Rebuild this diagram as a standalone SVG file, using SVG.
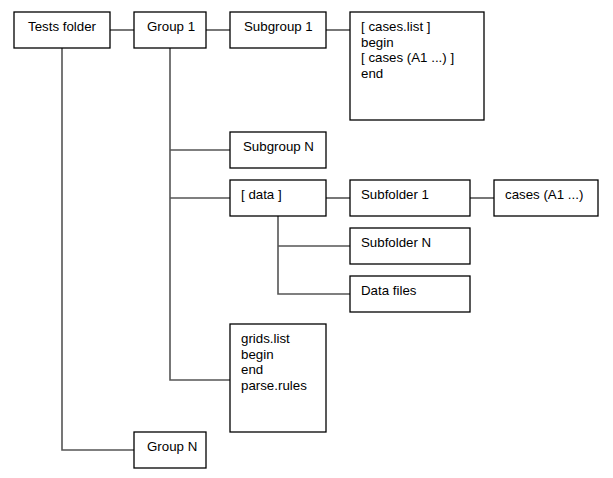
<svg xmlns="http://www.w3.org/2000/svg" width="613" height="478" viewBox="0 0 613 478">
<style>
.box{fill:#fff;stroke:#000;stroke-width:1.3}
.t{font-family:"Liberation Sans",Arial,sans-serif;font-size:13.3px;fill:#000}
.c{fill:none;stroke:#555;stroke-width:1.6}
</style>
<rect width="613" height="478" fill="#fff"/>
<g id="connectors">
<path class="c" d="M110 30H134"/>
<path class="c" d="M206 30H230"/>
<path class="c" d="M326 30H350"/>
<path class="c" d="M62 48V450H134"/>
<path class="c" d="M170 48V380H230"/>
<path class="c" d="M170 150H230"/>
<path class="c" d="M170 198H230"/>
<path class="c" d="M326 198H350"/>
<path class="c" d="M470 198H494"/>
<path class="c" d="M278 216V294H350"/>
<path class="c" d="M278 246H350"/>
</g>
<g id="tests-folder"><rect class="box" x="14" y="12" width="96" height="36"/><text class="t" x="28" y="31">Tests folder</text></g>
<g id="group-1"><rect class="box" x="134" y="12" width="72" height="36"/><text class="t" x="147" y="31">Group 1</text></g>
<g id="subgroup-1"><rect class="box" x="230" y="12" width="96" height="36"/><text class="t" x="244" y="31">Subgroup 1</text></g>
<g id="cases-list"><rect class="box" x="350" y="12" width="134" height="108"/>
<text class="t" x="361" y="31">[ cases.list ]</text>
<text class="t" x="361" y="46.5">begin</text>
<text class="t" x="361" y="62">[ cases (A1 ...) ]</text>
<text class="t" x="361" y="77.5">end</text></g>
<g id="subgroup-n"><rect class="box" x="230" y="132" width="96" height="36"/><text class="t" x="243" y="151">Subgroup N</text></g>
<g id="data"><rect class="box" x="230" y="180" width="96" height="36"/><text class="t" x="241" y="199">[ data ]</text></g>
<g id="subfolder-1"><rect class="box" x="350" y="180" width="120" height="36"/><text class="t" x="361" y="199">Subfolder 1</text></g>
<g id="cases"><rect class="box" x="494" y="180" width="104" height="36"/><text class="t" x="505" y="199">cases (A1 ...)</text></g>
<g id="subfolder-n"><rect class="box" x="350" y="228" width="120" height="36"/><text class="t" x="361" y="247">Subfolder N</text></g>
<g id="data-files"><rect class="box" x="350" y="276" width="120" height="36"/><text class="t" x="361" y="295">Data files</text></g>
<g id="grids"><rect class="box" x="230" y="324" width="96" height="108"/>
<text class="t" x="241" y="343">grids.list</text>
<text class="t" x="241" y="358.5">begin</text>
<text class="t" x="241" y="374">end</text>
<text class="t" x="241" y="389.5">parse.rules</text></g>
<g id="group-n"><rect class="box" x="134" y="432" width="72" height="36"/><text class="t" x="147" y="451">Group N</text></g>
</svg>
